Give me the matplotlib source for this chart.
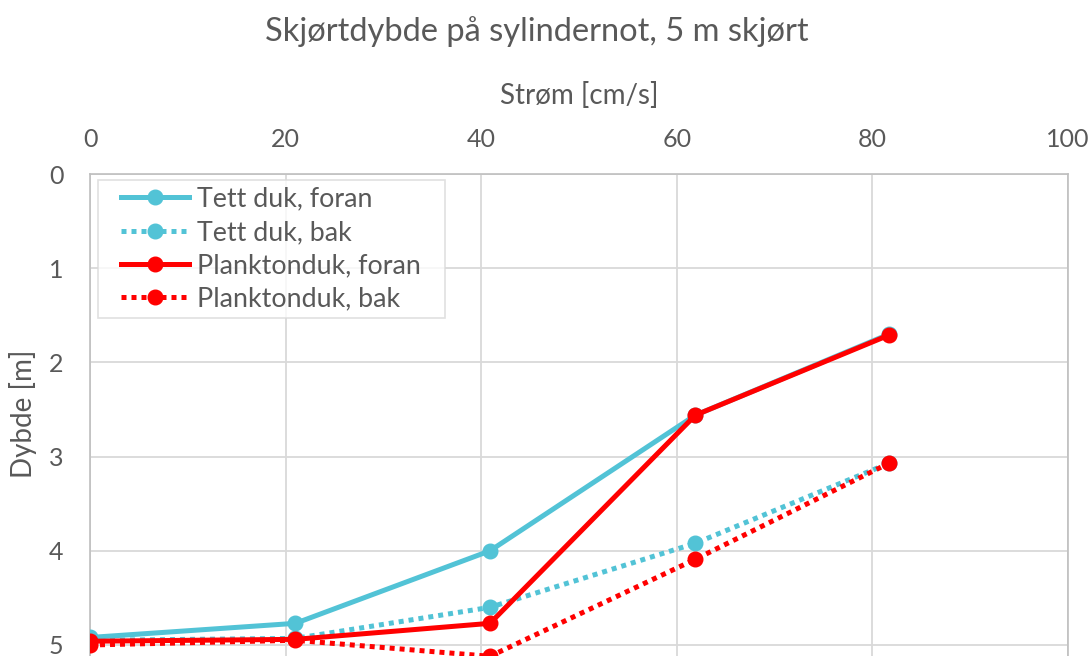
import matplotlib
matplotlib.use("Agg")
import matplotlib.pyplot as plt
from matplotlib.legend_handler import HandlerLine2D

# ---- data ----
stroem = [0, 21, 40.9, 61.9, 81.7]
tett_foran = [4.92, 4.77, 4.00, 2.56, 1.70]
tett_bak = [4.95, 4.93, 4.60, 3.92, 3.07]
plankton_foran = [4.96, 4.94, 4.77, 2.56, 1.71]
plankton_bak = [5.00, 4.95, 5.12, 4.09, 3.07]
series_names = ["Tett duk, foran", "Tett duk, bak", "Planktonduk, foran", "Planktonduk, bak"]
x_ticks = [0, 20, 40, 60, 80, 100]
y_ticks = [0, 1, 2, 3, 4, 5]

title = "Skjørtdybde på sylindernot, 5 m skjørt"
xlabel = "Strøm [cm/s]"
ylabel = "Dybde [m]"

# ---- style ----
BLUE = "#52C3D6"
RED = "#FF0000"
TXT = "#595959"
plt.rcParams["font.family"] = ["Lato", "DejaVu Sans"]

W, H = 1091, 656
fig = plt.figure(figsize=(W / 100, H / 100), dpi=100)

x0_px, x1_px = 90, 1068
y0_px = 174
px_per_unit = 94.2
ymax = 6
ybot_px = y0_px + ymax * px_per_unit
ax = fig.add_axes([x0_px / W, 1 - ybot_px / H, (x1_px - x0_px) / W, (ybot_px - y0_px) / H])

lw = 3.6
ms = 10.5
ax.plot(stroem, tett_foran, color=BLUE, lw=lw, marker="o", ms=ms, label=series_names[0], zorder=3)
ax.plot(stroem, tett_bak, color=BLUE, lw=lw, ls=(0, (1, 1)), marker="o", ms=ms,
        label=series_names[1], zorder=3, dash_capstyle="butt")
ax.plot(stroem, plankton_foran, color=RED, lw=lw, marker="o", ms=ms, label=series_names[2], zorder=3)
ax.plot(stroem, plankton_bak, color=RED, lw=lw, ls=(0, (1, 1)), marker="o", ms=ms,
        label=series_names[3], zorder=3, dash_capstyle="butt")

ax.set_xlim(0, 100)
ax.set_ylim(ymax, 0)
ax.set_xticks(x_ticks)
ax.set_yticks(y_ticks)
ax.xaxis.tick_top()
ax.xaxis.set_label_position("top")
ax.tick_params(axis="both", length=0, labelsize=18, labelcolor=TXT)
ax.tick_params(axis="x", pad=16.5)
ax.tick_params(axis="y", pad=19)
ax.grid(True, color="#D9D9D9", lw=1.3, zorder=0)
ax.set_axisbelow(True)
for s in ax.spines.values():
    s.set_color("#BFBFBF")
    s.set_linewidth(1.2)

ax.set_xlabel(xlabel, fontsize=20, color=TXT)
ax.xaxis.set_label_coords(0.5, 1 + (y0_px - 95) / (ybot_px - y0_px))
ax.xaxis.label.set_va("center")
ax.set_ylabel(ylabel, fontsize=20, color=TXT)
ax.yaxis.set_label_coords(-(x0_px - 23) / (x1_px - x0_px), 1 - (414 - y0_px) / (ybot_px - y0_px))
ax.yaxis.label.set_va("center")

fig.text(537 / W, 1 - 32 / H, title, ha="center", va="center", fontsize=23.5, color=TXT)

fs_leg = 19.3
fs_px = fs_leg * 100 / 72
hm = {l: HandlerLine2D(xpad=16 / fs_px) for l in ax.get_lines()}
axw = x1_px - x0_px
axh = ybot_px - y0_px
leg_l, leg_r, leg_t = 98, 445, 180
leg = ax.legend(loc="upper left",
                bbox_to_anchor=((leg_l - x0_px) / axw, 1 - (leg_t - y0_px) / axh, (leg_r - leg_l) / axw, 0),
                mode="expand",
                fontsize=fs_leg, frameon=True, fancybox=False, edgecolor="#D9D9D9",
                handlelength=84 / fs_px, handletextpad=8 / fs_px, borderaxespad=0,
                labelspacing=0.31, borderpad=0.25, labelcolor=TXT, handler_map=hm)
leg.get_frame().set_linewidth(1.2)

fig.savefig("out.png", dpi=100)
